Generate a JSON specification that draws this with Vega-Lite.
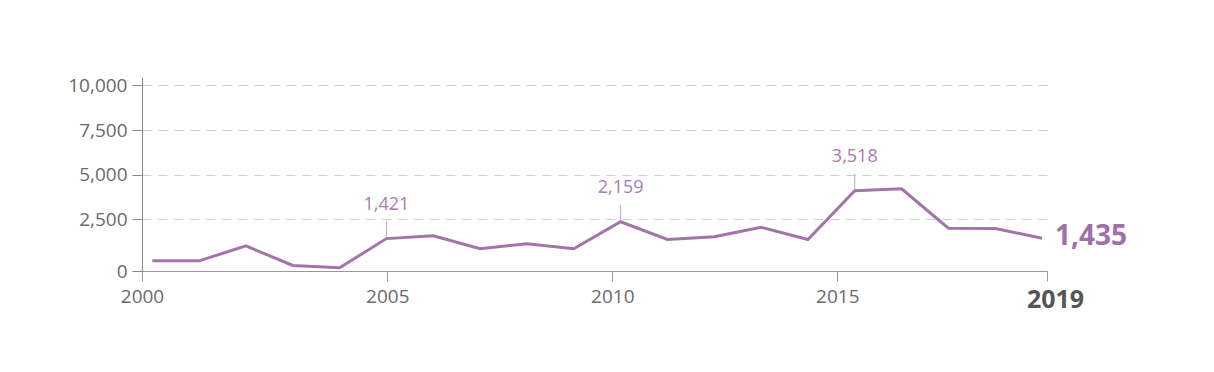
{
  "$schema": "https://vega.github.io/schema/vega-lite/v6.json",
  "width": 905,
  "height": 194,
  "autosize": {"type": "none"},
  "padding": {"left": 142, "top": 77, "right": 167, "bottom": 101},
  "background": "white",
  "config": {"view": {"stroke": null}, "font": "Open Sans"},
  "data": {
    "values": [
      {"year": 2000, "value": 447, "note": false},
      {"year": 2001, "value": 447, "note": false},
      {"year": 2002, "value": 1100, "note": false},
      {"year": 2003, "value": 241, "note": false},
      {"year": 2004, "value": 140, "note": false},
      {"year": 2005, "value": 1421, "note": true},
      {"year": 2006, "value": 1544, "note": false},
      {"year": 2007, "value": 974, "note": false},
      {"year": 2008, "value": 1193, "note": false},
      {"year": 2009, "value": 974, "note": false},
      {"year": 2010, "value": 2159, "note": true},
      {"year": 2011, "value": 1382, "note": false},
      {"year": 2012, "value": 1500, "note": false},
      {"year": 2013, "value": 1921, "note": false},
      {"year": 2014, "value": 1382, "note": false},
      {"year": 2015, "value": 3518, "note": true},
      {"year": 2016, "value": 3605, "note": false},
      {"year": 2017, "value": 1877, "note": false},
      {"year": 2018, "value": 1864, "note": false},
      {"year": 2019, "value": 1435, "note": false}
    ]
  },
  "encoding": {
    "x": {
      "field": "year",
      "type": "quantitative",
      "scale": {"domain": [1999.78, 2019.105], "nice": false, "zero": false},
      "axis": {
        "title": null,
        "values": [1999.78, 2005.018, 2009.823, 2014.627, 2019.105],
        "labelExpr": "'' + round(datum.value)",
        "grid": false,
        "domainColor": "#999999",
        "tickColor": "#999999",
        "tickSize": 10,
        "labelPadding": 6,
        "labelFlush": false,
        "labelOverlap": false,
        "labelFont": "Open Sans",
        "labelFontSize": {"condition": {"test": "datum.value > 2019", "value": 25}, "value": 19},
        "labelFontWeight": {"condition": {"test": "datum.value > 2019", "value": "bold"}, "value": "normal"},
        "labelColor": {"condition": {"test": "datum.value > 2019", "value": "#555555"}, "value": "#6a6a6a"},
        "labelOffset": {"condition": {"test": "datum.value > 2019", "value": 8}, "value": 0}
      }
    },
    "y": {
      "field": "value",
      "type": "quantitative",
      "scale": {"domain": [0, 8509], "nice": false},
      "axis": {
        "title": null,
        "values": [0, 2263, 4211, 6167, 8140],
        "labelExpr": "datum.value < 1000 ? '0' : datum.value < 3000 ? '2,500' : datum.value < 5000 ? '5,000' : datum.value < 7000 ? '7,500' : '10,000'",
        "grid": true,
        "gridDash": [9, 7],
        "gridColor": "#cccccc",
        "domainColor": "#888888",
        "tickColor": "#888888",
        "tickSize": 10,
        "labelPadding": 5,
        "labelFontSize": 19,
        "labelColor": "#6a6a6a"
      }
    }
  },
  "layer": [
    {
      "mark": {"type": "line", "color": "#A274AA", "strokeWidth": 3}
    },
    {
      "transform": [{"filter": "datum.note"}],
      "mark": {"type": "tick", "orient": "vertical", "size": 17, "thickness": 1, "yOffset": -8.5, "color": "#A77DAF"}
    },
    {
      "transform": [{"filter": "datum.note"}],
      "mark": {"type": "text", "baseline": "alphabetic", "dy": -29, "fontSize": 18, "color": "#A77DAF"},
      "encoding": {"text": {"field": "value", "type": "quantitative", "format": ","}}
    },
    {
      "transform": [{"filter": "datum.year == 2019"}],
      "mark": {"type": "text", "align": "left", "baseline": "alphabetic", "dx": 13, "dy": 7, "fontSize": 28, "fontWeight": "bold", "color": "#A070A8"},
      "encoding": {"text": {"field": "value", "type": "quantitative", "format": ","}}
    }
  ]
}
